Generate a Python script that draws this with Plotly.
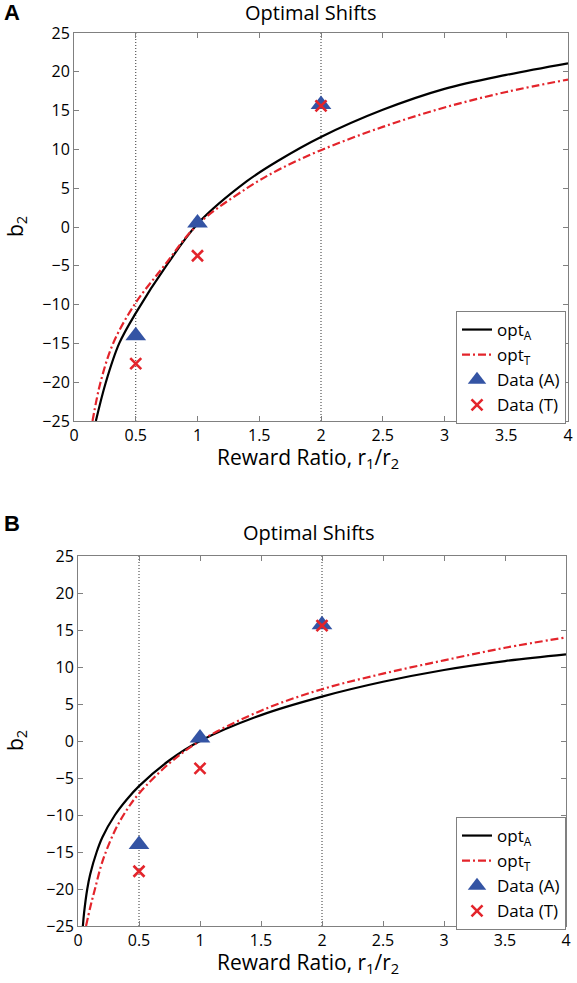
import plotly.graph_objects as go

# ---------------- data ----------------
ref_lines = [0.5, 2.0]
ratio_pts = [0.5, 1.0, 2.0]

# Panel A
a_data_A = [-14.0, 0.5, 15.8]
a_data_T = [-17.6, -3.7, 15.6]
a_optA_x = [0.177, 0.258, 0.366, 0.5, 0.76, 1.0, 1.4, 1.66, 2.0, 2.5, 3.0, 3.5, 4.0]
a_optA_y = [-25.0, -20.0, -15.0, -11.1, -4.7, 0.4, 5.9, 8.6, 11.6, 15.1, 17.8, 19.6, 21.1]
a_optT_x = [0.15, 0.215, 0.317, 0.49, 0.73, 1.0, 1.4, 1.66, 2.0, 2.5, 3.0, 3.5, 4.0]
a_optT_y = [-25.0, -20.0, -15.0, -10.0, -5.0, 0.3, 5.0, 7.4, 9.9, 12.9, 15.4, 17.4, 19.0]

# Panel B
b_data_A = [-14.0, 0.4, 15.7]
b_data_T = [-17.6, -3.7, 15.6]
b_optA_x = [0.04, 0.05, 0.076, 0.1, 0.153, 0.2, 0.303, 0.4, 0.5, 0.75, 1.0, 1.5, 2.0, 2.5, 3.0, 3.5, 4.0]
b_optA_y = [-25.0, -23.2, -20.0, -18.0, -15.0, -13.0, -10.0, -7.9, -6.1, -2.6, 0.0, 3.5, 6.0, 8.0, 9.6, 10.8, 11.7]
b_optT_x = [0.066, 0.1, 0.139, 0.2, 0.3, 0.4, 0.5, 0.75, 1.0, 1.5, 2.0, 2.5, 3.0, 3.5, 4.0]
b_optT_y = [-25.0, -22.5, -20.0, -16.3, -12.2, -9.3, -7.1, -3.0, 0.0, 4.1, 7.0, 9.1, 10.9, 12.6, 14.0]

x_ticks = [0, 0.5, 1, 1.5, 2, 2.5, 3, 3.5, 4]
x_tick_labels = ["0", "0.5", "1", "1.5", "2", "2.5", "3", "3.5", "4"]
y_ticks = [-25, -20, -15, -10, -5, 0, 5, 10, 15, 20, 25]

# ---------------- styling ----------------
W, H = 577, 983
FONT = "Open Sans"
BLUE = "#3454a4"
RED = "#e3242b"
AXC = "#808080"

fig = go.Figure()


def add_panel(xa, ya, legend, optA_x, optA_y, optT_x, optT_y, dA, dT):
    for xv in ref_lines:
        fig.add_trace(go.Scatter(x=[xv, xv], y=[-25, 25], mode="lines",
                                 line=dict(color="#333333", width=1, dash="1px,2px"),
                                 xaxis=xa, yaxis=ya, showlegend=False, hoverinfo="skip"))
    fig.add_trace(go.Scatter(x=optA_x, y=optA_y, mode="lines", name="opt<sub>A</sub>",
                             line=dict(color="black", width=2.2, shape="spline", smoothing=1.0),
                             xaxis=xa, yaxis=ya, legend=legend))
    fig.add_trace(go.Scatter(x=optT_x, y=optT_y, mode="lines", name="opt<sub>T</sub>",
                             line=dict(color=RED, width=2.2, dash="8px,3px,2px,3px",
                                       shape="spline", smoothing=1.0),
                             xaxis=xa, yaxis=ya, legend=legend))
    fig.add_trace(go.Scatter(x=ratio_pts, y=dA, mode="markers", name="Data (A)",
                             marker=dict(symbol="triangle-up", size=18, color=BLUE,
                                         line=dict(width=0)),
                             xaxis=xa, yaxis=ya, legend=legend, cliponaxis=False))
    fig.add_trace(go.Scatter(x=ratio_pts, y=dT, mode="markers", name="Data (T)",
                             marker=dict(symbol="x-thin", size=11, color=RED,
                                         line=dict(width=2.6, color=RED)),
                             xaxis=xa, yaxis=ya, legend=legend, cliponaxis=False))


add_panel("x", "y", "legend", a_optA_x, a_optA_y, a_optT_x, a_optT_y, a_data_A, a_data_T)
add_panel("x2", "y2", "legend2", b_optA_x, b_optA_y, b_optT_x, b_optT_y, b_data_A, b_data_T)

axis_common = dict(showline=True, linecolor=AXC, linewidth=1, mirror="ticks",
                   ticks="inside", ticklen=5, tickcolor=AXC, tickwidth=1,
                   showgrid=False, zeroline=False, automargin=False,
                   tickfont=dict(family=FONT, size=16, color="black"))


def pdom(top_px, bot_px):
    return [1 - bot_px / H, 1 - top_px / H]


legend_common = dict(xanchor="right", yanchor="top",
                     bgcolor="white", bordercolor=AXC, borderwidth=1,
                     font=dict(family=FONT, size=17, color="black"),
                     tracegroupgap=0, itemwidth=30)

fig.update_layout(
    width=W, height=H, margin=dict(l=0, r=0, t=0, b=0, autoexpand=False),
    paper_bgcolor="white", plot_bgcolor="white",
    font=dict(family=FONT, color="black"),
    xaxis=dict(domain=[74 / W, 568 / W], anchor="y", range=[0, 4],
               tickvals=x_ticks, ticktext=x_tick_labels, **axis_common),
    yaxis=dict(domain=pdom(33, 421), anchor="x", range=[-25, 25],
               tickvals=y_ticks, **axis_common),
    xaxis2=dict(domain=[78 / W, 566 / W], anchor="y2", range=[0, 4],
                tickvals=x_ticks, ticktext=x_tick_labels, **axis_common),
    yaxis2=dict(domain=pdom(556, 926), anchor="x2", range=[-25, 25],
                tickvals=y_ticks, **axis_common),
    legend=dict(x=566 / W, y=1 - 311 / H, **legend_common),
    legend2=dict(x=566 / W, y=1 - 817 / H, **legend_common),
    showlegend=True,
)

ann = []
for (ytitle_px, ylabel_px, letter_px, xcenter, ymid, letter) in [
    (13, 458, 12, 311, 227, "A"), (532, 963, 523, 309, 741, "B")]:
    ann.append(dict(text="Optimal Shifts", x=xcenter / W, y=1 - ytitle_px / H, xref="paper", yref="paper",
                    showarrow=False, font=dict(family=FONT, size=20), xanchor="center", yanchor="middle"))
    ann.append(dict(text="Reward Ratio, r<sub>1</sub>/r<sub>2</sub>", x=308 / W, y=1 - ylabel_px / H,
                    xref="paper", yref="paper", showarrow=False, font=dict(family=FONT, size=21),
                    xanchor="center", yanchor="middle"))
    ann.append(dict(text="b<sub>2</sub>", x=16 / W, y=1 - ymid / H, xref="paper", yref="paper",
                    showarrow=False, font=dict(family=FONT, size=21), textangle=-90,
                    xanchor="center", yanchor="middle"))
    ann.append(dict(text="<b>%s</b>" % letter, x=12 / W, y=1 - letter_px / H, xref="paper", yref="paper",
                    showarrow=False, font=dict(family="Liberation Sans", size=22), xanchor="center",
                    yanchor="middle"))
fig.update_layout(annotations=ann)

fig.write_html(
    "out.html",
    config={"displayModeBar": False},
    post_script="document.documentElement.style.margin='0';document.body.style.margin='0';"
                "document.body.style.overflow='hidden';",
)
